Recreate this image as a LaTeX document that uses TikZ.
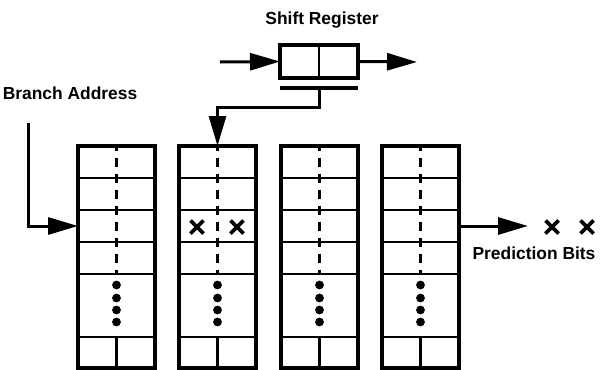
\documentclass[tikz,border=0pt]{standalone}
\usepackage{fontspec}
\setmainfont{Liberation Sans}
\usetikzlibrary{arrows.meta}
\begin{document}
\begin{tikzpicture}[x=1pt,y=-1pt,
  table/.style={draw, line width=3.4pt, minimum width=77pt, minimum height=222pt,
    inner sep=0pt, outer sep=0pt, anchor=north west},
  regbox/.style={draw, line width=3.4pt, minimum width=78pt, minimum height=33pt,
    inner sep=0pt, outer sep=0pt, anchor=north west},
  rowline/.style={line width=2.8pt},
  centreline/.style={line width=2.4pt, dash pattern=on 9pt off 7pt, dash phase=4.5pt},
  arrow/.style={line width=3pt, -{Triangle[length=30pt,width=17pt]}},
  label/.style={font=\bfseries\fontsize{17.4}{20}\selectfont, inner sep=0pt},
  xmark/.pic={\draw[line width=3.6pt] (-6.5,-6.5) -- (6.5,6.5) (-6.5,6.5) -- (6.5,-6.5);}
]
\useasboundingbox (0,0) rectangle (606,370);

% four prediction tables
\foreach \i/\x in {1/78,2/179,3/281,4/382}{
  \node[table] (c\i) at (\x,146) {};
  \foreach \y in {178,210,242,274,337}
    \draw[rowline] (\x,\y) -- (\x+77,\y);
  \draw[centreline] (\x+38.5,146) -- (\x+38.5,274);
  \draw[rowline] (\x+38.5,337) -- (\x+38.5,368);
  \foreach \y in {285,298,310,322}
    \fill (\x+38.5,\y) circle (4.4pt);
}

% selected entry in the second table
\pic at (197,227) {xmark};
\pic at (237,227) {xmark};

% shift register
\node[label] (srlabel) at (322,20) {Shift Register};
\node[regbox] (sr) at (280,45) {};
\draw[rowline] (sr.north) -- (sr.south);
\draw[line width=3.4pt] ([yshift=-10pt]sr.south west) -- ([yshift=-10pt]sr.south east);
\coordinate (srin) at (220,62);
\coordinate (srout) at (417,62);
\draw[arrow] (srin) -- (sr.west);
\draw[arrow] (sr.east) -- (srout);
\draw[arrow] ([yshift=-10pt]sr.south) -- ++(0,19) -| (c2.north);

% branch address
\node[label] (balabel) at (70,93) {Branch Address};
\coordinate (ba) at (28,123);
\draw[arrow] (ba) |- ([yshift=-80pt]c1.north west);

% prediction bits
\coordinate (pb) at (528,226);
\draw[arrow] ([yshift=-80pt]c4.north east) -- (pb);
\pic at (552,227) {xmark};
\pic at (587,227) {xmark};
\node[label] (pblabel) at (534,253) {Prediction Bits};
\end{tikzpicture}
\end{document}
